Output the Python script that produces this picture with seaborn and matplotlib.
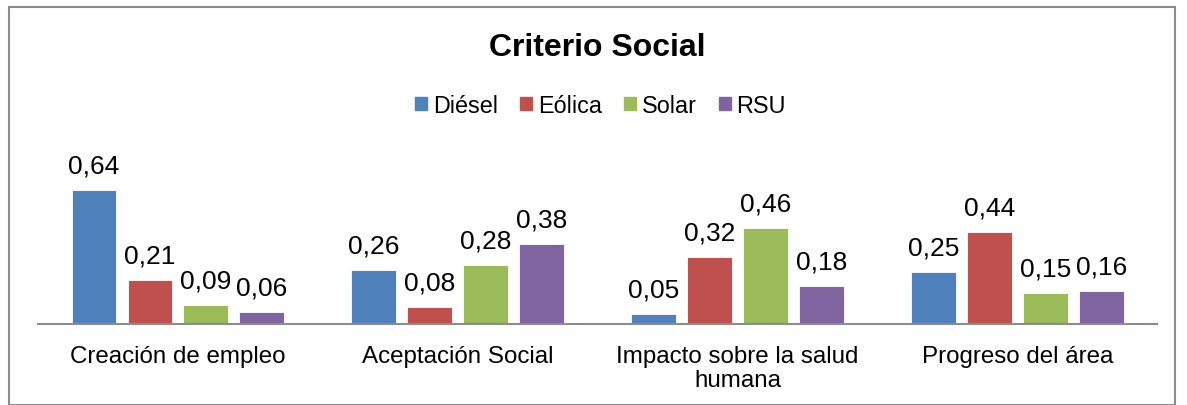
import pandas as pd
import numpy as np
import seaborn as sns
import matplotlib.pyplot as plt
from matplotlib.patches import Rectangle

# ---------------------------------------------------------------
# DATA
# ---------------------------------------------------------------
criterios = ["Creación de empleo", "Aceptación Social",
             "Impacto sobre la salud\nhumana", "Progreso del área"]
tecnologias = ["Diésel", "Eólica", "Solar", "RSU"]
diesel = [0.64, 0.26, 0.05, 0.25]
eolica = [0.21, 0.08, 0.32, 0.44]
solar = [0.09, 0.28, 0.46, 0.15]
rsu = [0.06, 0.38, 0.18, 0.16]

colores = ["#4F81BD", "#C0504D", "#9BBB59", "#8064A2"]

df = pd.DataFrame({
    "criterio": criterios * 4,
    "tecnologia": np.repeat(tecnologias, len(criterios)),
    "valor": diesel + eolica + solar + rsu,
})

# ---------------------------------------------------------------
# PLOT
# ---------------------------------------------------------------
sns.set_style("white")
plt.rcParams['font.family'] = ['Liberation Sans', 'DejaVu Sans']
plt.rcParams['text.color'] = 'black'
plt.rcParams['xtick.color'] = 'black'

fig = plt.figure(figsize=(11.87, 4.06), dpi=100)
ax = fig.add_axes([0.032, 0.199, 0.943, 0.362])

sns.barplot(data=df, x="criterio", y="valor", hue="tecnologia",
            hue_order=tecnologias, palette=colores, saturation=1, width=0.8,
            gap=0.2, edgecolor="white", linewidth=0.6, ax=ax, legend=False)

for cont in ax.containers:
    etiquetas = [f"{b.get_height():.2f}".replace(".", ",") for b in cont]
    ax.bar_label(cont, labels=etiquetas, padding=9, fontsize=19, clip_on=False)

ax.set_ylim(0, 0.7)
ax.set_xlim(-0.5, 3.5)
ax.set_xlabel("")
ax.set_ylabel("")
ax.set_yticks([])
ax.tick_params(axis="x", length=0, labelsize=17.4, pad=15)
for lbl in ax.get_xticklabels():
    lbl.set_linespacing(1.1)
for s in ["top", "right", "left"]:
    ax.spines[s].set_visible(False)
ax.spines["bottom"].set_color("#8C8C8C")
ax.spines["bottom"].set_linewidth(1.5)

# legend
handles = [Rectangle((0, 0), 1, 1, color=c) for c in colores]
fig.legend(handles, tecnologias, loc="center", bbox_to_anchor=(0.506, 0.738),
           ncol=4, frameon=False, fontsize=16.8, handlelength=0.5,
           handleheight=0.5, handletextpad=0.26, columnspacing=0.95)

fig.text(0.503, 0.882, "Criterio Social", ha="center", va="center",
         fontsize=23, fontweight="bold")

# chart border
fig.patches.append(Rectangle((9 / 1187, 0.0), 1166 / 1187, 1 - 8 / 406,
                             transform=fig.transFigure, fill=False,
                             edgecolor="#8C8C8C", linewidth=1.5))

fig.savefig("out.png", dpi=100)
